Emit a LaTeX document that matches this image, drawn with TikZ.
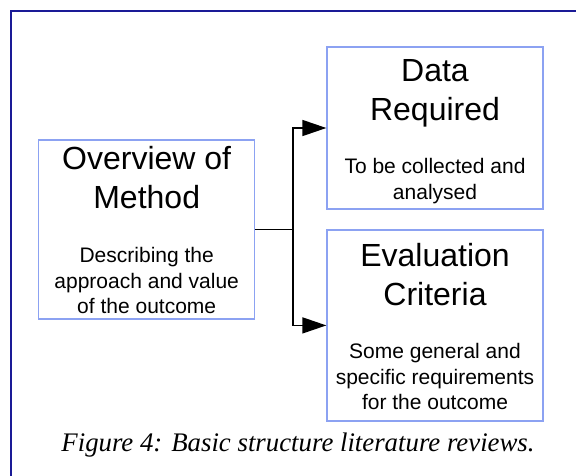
\documentclass[tikz,border=0pt]{standalone}
\usepackage{fontspec}
\setmainfont{Liberation Sans}
\newfontfamily\captionfont{Liberation Serif}
\usetikzlibrary{arrows.meta}
\definecolor{framenavy}{HTML}{1A1A96}
\definecolor{boxblue}{HTML}{8CA2F2}
\tikzset{
  stagebox/.style={draw=boxblue, line width=1.3pt, minimum width=216pt, inner sep=0pt},
  heading/.style={font=\fontsize{32}{38.5}\selectfont, align=center, anchor=base, inner sep=0pt},
  detail/.style={font=\fontsize{21}{25.5}\selectfont, align=center, anchor=base, inner sep=0pt},
  link/.style={line width=1.5pt, black},
  linkarrow/.style={link, -{Triangle[length=24pt,width=16pt]}}
}
\begin{document}
\begin{tikzpicture}[x=1pt,y=-1pt]
  \useasboundingbox (0,0) rectangle (576,475);
  % outer frame
  \draw[framenavy, line width=2.2pt] (11,480) -- (11,11) -- (580,11);

  % boxes
  \node[stagebox, minimum height=179pt] (method) at (146.7,229.5) {};
  \node[stagebox, minimum height=162pt] (data) at (435,128) {};
  \node[stagebox, minimum height=191pt] (eval) at (435,325.4) {};

  % texts (anchored at the baseline of their last line)
  \node[heading] (methodtitle) at (146.7,208) {Overview of\\Method};
  \node[detail] (methodtext) at (146.7,313.5) {Describing the\\approach and value\\of the outcome};
  \node[heading] (datatitle) at (435,120) {Data\\Required};
  \node[detail] (datatext) at (435,199) {To be collected and\\analysed};
  \node[heading] (evaltitle) at (435,305) {Evaluation\\Criteria};
  \node[detail] (evaltext) at (435,409.5) {Some general and\\specific requirements\\for the outcome};

  % connectors
  \coordinate (split) at (293,229.5);
  \draw[link] (method.east) -- (split);
  \draw[linkarrow] (split) |- (data.west);
  \draw[linkarrow] (split) |- (eval.west);

  % caption
  \node[font=\captionfont\itshape\fontsize{26.8}{30}\selectfont, inner sep=0pt] (caption) at (298,445) {Figure 4: Basic structure literature reviews.};
\end{tikzpicture}
\end{document}
